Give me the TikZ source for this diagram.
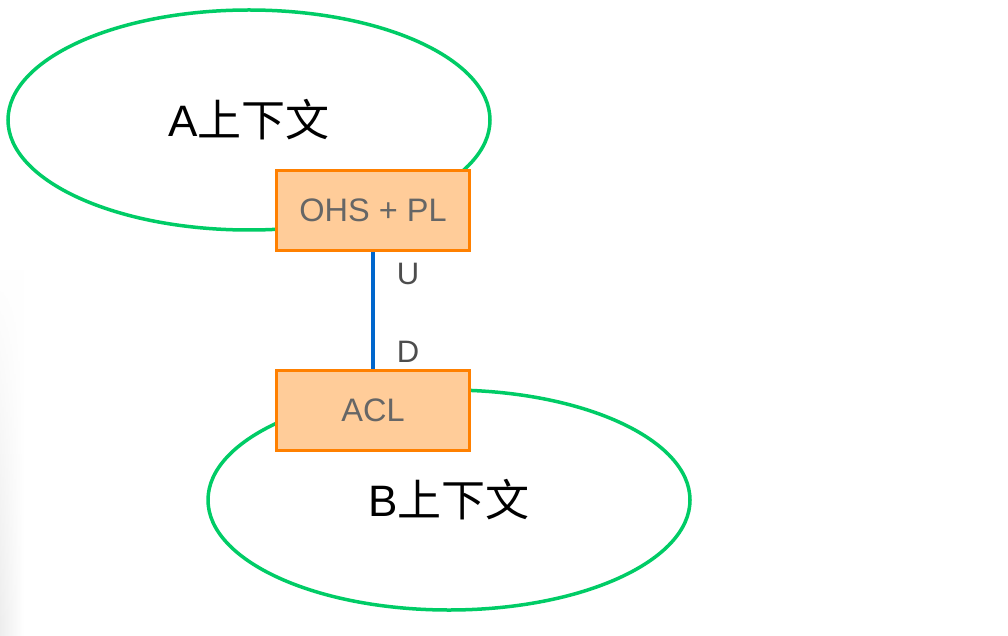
\documentclass[tikz,border=0pt]{standalone}
\usepackage{fontspec}
\setmainfont{Liberation Sans}
\newfontfamily\cjk{Noto Sans CJK SC}
\usetikzlibrary{shapes.geometric,fadings}
\definecolor{ctxgreen}{HTML}{00CC66}
\definecolor{boxorange}{HTML}{FF8000}
\definecolor{boxfill}{HTML}{FFCC99}
\definecolor{linkblue}{HTML}{0066CC}
\definecolor{boxtext}{HTML}{666666}
\definecolor{labeltext}{HTML}{4D4D4D}
\tikzset{
  ctx/.style={ellipse, draw=ctxgreen, line width=3.5pt, minimum width=482pt, minimum height=220pt, inner sep=0pt, font=\fontsize{44}{50}\selectfont, text=black},
  pattern box/.style={rectangle, draw=boxorange, fill=boxfill, line width=3.5pt, minimum width=193pt, minimum height=80pt, inner sep=0pt, font=\fontsize{32.5}{38}\selectfont, text=boxtext},
  endlabel/.style={font=\fontsize{31}{36}\selectfont, text=labeltext, inner sep=0pt},
  link/.style={draw=linkblue, line width=3.5pt}
}
\begin{document}
\begin{tikzpicture}[x=1pt,y=-1pt]
\useasboundingbox (0,0) rectangle (1008,636);
\fill[white] (0,0) rectangle (1008,636);
\shade[left color=black!7, right color=white, draw=none, path fading=north] (0,270) rectangle (24,636);
\node[ctx] (actx) at (249,120) {A{\cjk 上下文}};
\node[ctx] (bctx) at (449,500) {B{\cjk 上下文}};
\node[pattern box] (ohs) at (373,210.5) {OHS + PL};
\node[pattern box] (acl) at (373,410.5) {ACL};
\draw[link] (ohs.south) -- (acl.north);
\node[endlabel] (u) at (408,274) {U};
\node[endlabel] (d) at (408,352) {D};
\end{tikzpicture}
\end{document}
